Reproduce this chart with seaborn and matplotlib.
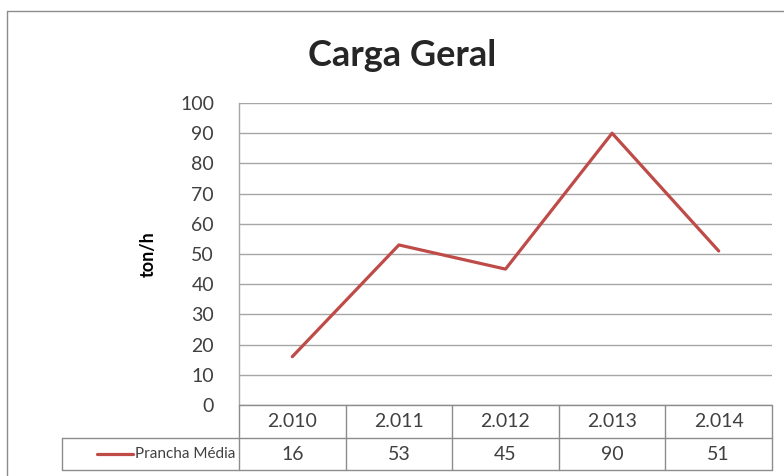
import matplotlib
matplotlib.use("Agg")
import matplotlib.pyplot as plt
import seaborn as sns
import pandas as pd
from matplotlib.lines import Line2D

years = ["2.010", "2.011", "2.012", "2.013", "2.014"]
values = [16, 53, 45, 90, 51]
series_name = "Prancha Média"
title = "Carga Geral"
ylabel = "ton/h"
yticks = [0, 10, 20, 30, 40, 50, 60, 70, 80, 90, 100]

sns.set_style("white")
plt.rcParams['font.family'] = ['Lato', 'DejaVu Sans']

W, H = 784, 476
fig = plt.figure(figsize=(W / 100, H / 100), dpi=100)

def fx(px):
    return px / W

def fy(py):
    return 1 - py / H

L, R, T, B = 239, 772, 103, 405
ax = fig.add_axes([fx(L), fy(B), fx(R) - fx(L), fy(T) - fy(B)])

df = pd.DataFrame({"pos": range(len(years)), "val": values})
sns.lineplot(data=df, x="pos", y="val", ax=ax, color="#BE4B48", linewidth=2.3)

ax.set_xlim(-0.5, len(years) - 0.5)
ax.set_ylim(0, 100)
ax.set_yticks(yticks)
ax.set_xticks([])
ax.set_xlabel("")
ax.set_ylabel(ylabel, fontsize=13, fontweight="bold", color="black", labelpad=17)
ax.tick_params(axis="y", length=0, pad=18, labelsize=14, labelcolor="#404040")
ax.grid(axis="y", color="#A6A6A6", linewidth=1)
for s in ["top", "right", "bottom"]:
    ax.spines[s].set_visible(False)
ax.spines["left"].set_color("#A6A6A6")
ax.spines["left"].set_linewidth(1)

fig.text(fx(402), fy(55), title, fontsize=26, fontweight="bold", ha="center", va="center")

# outer frame (top and left edges visible)
gc = "#8C8C8C"
fig.add_artist(Line2D([fx(7), 1.0], [fy(11), fy(11)], color=gc, lw=1, transform=fig.transFigure))
fig.add_artist(Line2D([fx(7), fx(7)], [fy(11), 0.0], color=gc, lw=1, transform=fig.transFigure))

# data table
row1_top, row1_bot, row2_bot = 405, 438, 470
leg_left = 62
colw = (R - L) / len(years)
def hline(x0, x1, y):
    fig.add_artist(Line2D([fx(x0), fx(x1)], [fy(y), fy(y)], color=gc, lw=1,
                          transform=fig.transFigure))
def vline(x, y0, y1):
    fig.add_artist(Line2D([fx(x), fx(x)], [fy(y0), fy(y1)], color=gc, lw=1,
                          transform=fig.transFigure))
hline(L, R, row1_top)
hline(leg_left, R, row1_bot)
hline(leg_left, R, row2_bot)
vline(leg_left, row1_bot, row2_bot)
for i in range(len(years) + 1):
    vline(L + i * colw, row1_top, row2_bot)
for i, (yr, v) in enumerate(zip(years, values)):
    cx = L + (i + 0.5) * colw
    fig.text(fx(cx), fy((row1_top + row1_bot) / 2), yr, ha="center", va="center",
             fontsize=14, color="#404040")
    fig.text(fx(cx), fy((row1_bot + row2_bot) / 2), str(v), ha="center", va="center",
             fontsize=14, color="#404040")
# legend key
fig.add_artist(Line2D([fx(97), fx(133)], [fy(454), fy(454)], color="#BE4B48", lw=2.3,
                      transform=fig.transFigure))
fig.text(fx(135), fy(454), series_name, ha="left", va="center", fontsize=11, color="#404040")

fig.savefig("out.png", dpi=100)
